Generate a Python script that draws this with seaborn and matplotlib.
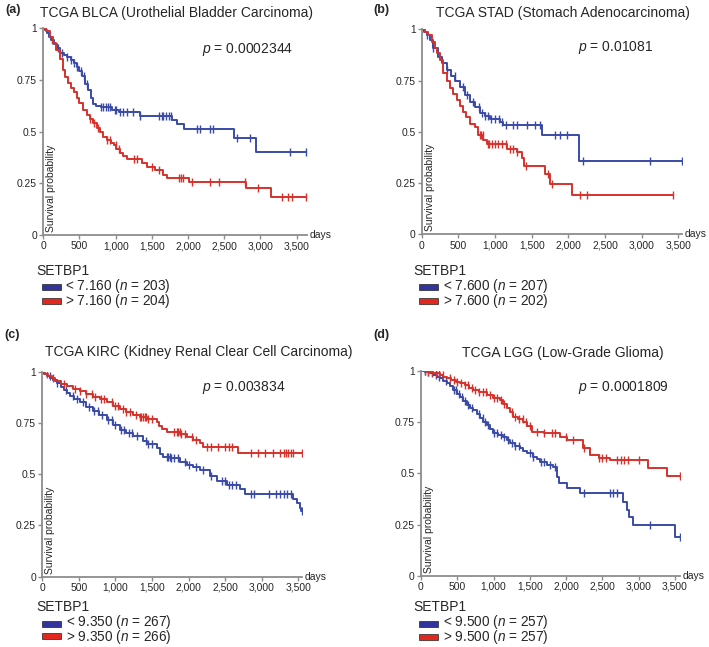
import numpy as np
import pandas as pd
import seaborn as sns
import matplotlib
matplotlib.use("Agg")
import matplotlib.pyplot as plt
from matplotlib.patches import Rectangle
from matplotlib.ticker import FuncFormatter

# ---------------- data ----------------
# Panel a: TCGA BLCA
a_low_t = [0, 20, 50, 80, 110, 150, 190, 230, 280, 330, 380, 420, 460, 500, 540, 580, 620, 660, 690, 730, 800, 950, 1050, 1330, 1780, 1850, 1950, 2630, 2940]
a_low_s = [1, 0.99, 0.975, 0.96, 0.945, 0.925, 0.905, 0.88, 0.87, 0.86, 0.845, 0.83, 0.815, 0.795, 0.77, 0.73, 0.70, 0.665, 0.635, 0.625, 0.618, 0.605, 0.595, 0.575, 0.555, 0.535, 0.515, 0.47, 0.40]
a_low_c = [120, 200, 260, 330, 380, 430, 470, 520, 560, 600, 800, 830, 870, 900, 920, 990, 1010, 1060, 1100, 1150, 1240, 1340, 1600, 1640, 1660, 1700, 1730, 1770, 2120, 2170, 2300, 2350, 2680, 2860, 3410, 3629]
a_high_t = [0, 40, 90, 140, 180, 230, 270, 300, 340, 380, 420, 460, 500, 550, 600, 640, 690, 740, 780, 830, 880, 930, 970, 1010, 1060, 1100, 1150, 1360, 1430, 1550, 1650, 1710, 2010, 2800, 3150]
a_high_s = [1, 0.985, 0.96, 0.93, 0.895, 0.85, 0.80, 0.765, 0.735, 0.71, 0.69, 0.665, 0.64, 0.605, 0.58, 0.56, 0.54, 0.52, 0.50, 0.475, 0.46, 0.445, 0.435, 0.415, 0.395, 0.38, 0.366, 0.35, 0.33, 0.315, 0.29, 0.274, 0.258, 0.226, 0.182]
a_high_c = [650, 700, 760, 880, 920, 1000, 1050, 1250, 1300, 1500, 1600, 1870, 1900, 1930, 2050, 2300, 2430, 2790, 2970, 3300, 3380, 3430, 3629]
a_end = 3629

# Panel b: TCGA STAD
b_low_t = [0, 30, 70, 110, 160, 220, 270, 340, 400, 455, 520, 590, 660, 730, 795, 860, 930, 1070, 1115, 1640, 2140]
b_low_s = [1, 0.985, 0.97, 0.95, 0.91, 0.865, 0.835, 0.80, 0.77, 0.75, 0.72, 0.68, 0.645, 0.62, 0.59, 0.575, 0.56, 0.55, 0.533, 0.485, 0.36]
b_low_c = [70, 160, 340, 450, 560, 620, 700, 780, 820, 860, 900, 950, 1000, 1050, 1100, 1150, 1250, 1300, 1432, 1545, 1614, 1820, 1886, 1977, 2204, 3113, 3545]
b_high_t = [0, 40, 90, 136, 180, 205, 250, 295, 340, 386, 430, 477, 520, 568, 610, 659, 727, 773, 841, 886, 1159, 1295, 1364, 1400, 1682, 1750, 2045]
b_high_s = [1, 0.985, 0.97, 0.94, 0.91, 0.883, 0.85, 0.785, 0.75, 0.712, 0.685, 0.655, 0.625, 0.598, 0.57, 0.54, 0.525, 0.485, 0.46, 0.44, 0.415, 0.40, 0.37, 0.335, 0.294, 0.244, 0.192]
b_high_c = [790, 810, 830, 900, 920, 960, 1000, 1040, 1100, 1150, 1200, 1250, 1300, 1420, 1720, 1770, 2160, 2250, 3432]
b_end_low = 3545
b_end_high = 3432

# Panel c: TCGA KIRC
c_low_t = [0, 30, 70, 110, 150, 200, 250, 300, 333, 380, 430, 515, 600, 697, 780, 880, 970, 1062, 1150, 1244, 1381, 1426, 1563, 1609, 1654, 1750, 1882, 1973, 2060, 2155, 2292, 2383, 2520, 2702, 2771, 3431, 3477, 3522, 3540]
c_low_s = [1, 0.99, 0.98, 0.97, 0.96, 0.945, 0.925, 0.91, 0.895, 0.88, 0.865, 0.85, 0.83, 0.81, 0.79, 0.765, 0.74, 0.715, 0.70, 0.685, 0.66, 0.645, 0.63, 0.60, 0.585, 0.58, 0.56, 0.545, 0.535, 0.52, 0.49, 0.465, 0.445, 0.43, 0.405, 0.38, 0.36, 0.335, 0.32]
c_low_c = [100, 200, 330, 420, 480, 560, 640, 700, 760, 820, 900, 950, 1000, 1080, 1120, 1180, 1230, 1300, 1420, 1440, 1500, 1700, 1720, 1740, 1760, 1800, 1850, 1950, 2000, 2100, 2200, 2300, 2450, 2500, 2550, 2600, 2650, 2850, 2900, 3100, 3200, 3250, 3300, 3350, 3400, 3545]
c_high_t = [0, 40, 80, 130, 180, 250, 333, 420, 515, 600, 697, 790, 880, 970, 1062, 1150, 1244, 1330, 1426, 1563, 1600, 1640, 1700, 1882, 1973, 2064, 2155, 2201, 2680]
c_high_s = [1, 0.99, 0.98, 0.97, 0.955, 0.94, 0.93, 0.915, 0.905, 0.89, 0.875, 0.865, 0.85, 0.835, 0.82, 0.805, 0.79, 0.78, 0.77, 0.755, 0.735, 0.72, 0.705, 0.695, 0.68, 0.665, 0.65, 0.634, 0.605]
c_high_c = [60, 150, 300, 450, 520, 600, 680, 720, 800, 850, 950, 1000, 1030, 1100, 1150, 1200, 1280, 1330, 1350, 1380, 1400, 1420, 1450, 1500, 1800, 1840, 1860, 1880, 1900, 1950, 2050, 2100, 2250, 2300, 2400, 2500, 2550, 2600, 2850, 2950, 3050, 3150, 3250, 3300, 3330, 3360, 3400, 3430, 3545]
c_end = 3545

# Panel d: TCGA LGG
d_low_t = [0, 60, 120, 170, 220, 262, 310, 354, 400, 446, 490, 537, 580, 629, 680, 721, 770, 813, 860, 905, 950, 997, 1060, 1134, 1180, 1226, 1300, 1364, 1410, 1456, 1548, 1600, 1640, 1732, 1823, 1869, 1906, 2007, 2191, 2788, 2834, 2871, 2926, 3500]
d_low_s = [1, 0.995, 0.99, 0.98, 0.972, 0.964, 0.952, 0.94, 0.925, 0.907, 0.89, 0.875, 0.855, 0.834, 0.82, 0.81, 0.79, 0.769, 0.752, 0.736, 0.715, 0.695, 0.687, 0.679, 0.663, 0.647, 0.635, 0.622, 0.61, 0.598, 0.581, 0.57, 0.557, 0.541, 0.533, 0.484, 0.451, 0.427, 0.402, 0.362, 0.321, 0.288, 0.248, 0.19]
d_low_c = [50, 100, 150, 200, 250, 350, 450, 480, 520, 560, 600, 650, 700, 800, 850, 880, 920, 1000, 1050, 1100, 1150, 1200, 1250, 1300, 1350, 1500, 1550, 1650, 1700, 1780, 1850, 2250, 2600, 2650, 2700, 3150, 3569]
d_high_t = [0, 80, 170, 262, 310, 354, 420, 480, 537, 600, 660, 721, 800, 905, 990, 1089, 1130, 1180, 1230, 1272, 1330, 1410, 1460, 1525, 1700, 1915, 2007, 2237, 2329, 2450, 2604, 3132, 3385]
d_high_s = [1, 0.997, 0.99, 0.98, 0.972, 0.964, 0.955, 0.948, 0.94, 0.93, 0.918, 0.907, 0.895, 0.883, 0.87, 0.858, 0.84, 0.818, 0.80, 0.777, 0.765, 0.752, 0.73, 0.704, 0.695, 0.68, 0.663, 0.622, 0.59, 0.575, 0.565, 0.524, 0.489]
d_high_c = [50, 100, 150, 200, 250, 300, 400, 450, 500, 550, 600, 650, 700, 750, 800, 850, 900, 950, 1000, 1050, 1100, 1150, 1250, 1300, 1350, 1400, 1450, 1500, 1600, 1700, 1800, 1850, 2000, 2100, 2250, 2450, 2500, 2550, 2700, 2750, 2800, 2850, 3000, 3569]
d_end = 3569

titles = ["TCGA BLCA (Urothelial Bladder Carcinoma)", "TCGA STAD (Stomach Adenocarcinoma)",
          "TCGA KIRC (Kidney Renal Clear Cell Carcinoma)", "TCGA LGG (Low-Grade Glioma)"]
panel_labels = ["(a)", "(b)", "(c)", "(d)"]
p_values = ["0.0002344", "0.01081", "0.003834", "0.0001809"]
cutoffs = ["7.160", "7.600", "9.350", "9.500"]
n_low = [203, 207, 267, 257]
n_high = [204, 202, 266, 257]
x_ticks = [0, 500, 1000, 1500, 2000, 2500, 3000, 3500]
y_ticks = [0, 0.25, 0.5, 0.75, 1]
y_tick_labels = ["0", "0.25", "0.5", "0.75", "1"]

# ---------------- style ----------------
sns.set_style("ticks")
plt.rcParams["font.family"] = ["Liberation Sans", "DejaVu Sans"]
plt.rcParams["mathtext.fontset"] = "custom"
plt.rcParams["mathtext.it"] = "Liberation Sans:italic"
plt.rcParams["mathtext.rm"] = "Liberation Sans"

BLUE = "#3A4BA6"
RED = "#D6322B"
LEG_BLUE = "#33339C"
LEG_RED = "#E2271F"
GREY = "#8C8C8C"

W, H = 709, 647
fig = plt.figure(figsize=(W / 100, H / 100), dpi=100)


def px_axes(left, top, right, bottom):
    return fig.add_axes([left / W, 1 - bottom / H, (right - left) / W, (bottom - top) / H])


panels = [
    dict(box=(43.3, 28.3, 307.0, 235.0), xmax=3643,
         curves=[(a_low_t, a_low_s, a_low_c, a_end, BLUE), (a_high_t, a_high_s, a_high_c, a_end, RED)],
         title_xy=(176.5, 13), lab_xy=(5, 10), p_xy=(202, 49),
         leg=(36.7, 270.7, 287.3, 300.7, 42.3, 65)),
    dict(box=(421.7, 29.3, 681.7, 234.3), xmax=3545,
         curves=[(b_low_t, b_low_s, b_low_c, b_end_low, BLUE), (b_high_t, b_high_s, b_high_c, b_end_high, RED)],
         title_xy=(562.5, 13), lab_xy=(373, 10), p_xy=(578, 47),
         leg=(413.3, 270.7, 287.3, 300.7, 419.3, 443)),
    dict(box=(42.3, 371.7, 301.7, 576.7), xmax=3546,
         curves=[(c_low_t, c_low_s, c_low_c, c_end, BLUE), (c_high_t, c_high_s, c_high_c, c_end, RED)],
         title_xy=(199, 351.7), lab_xy=(4, 335), p_xy=(202, 387),
         leg=(36.7, 606.7, 623.5, 636.0, 42.3, 66)),
    dict(box=(421.0, 371.0, 680.0, 575.7), xmax=3569,
         curves=[(d_low_t, d_low_s, d_low_c, d_end, BLUE), (d_high_t, d_high_s, d_high_c, d_end, RED)],
         title_xy=(562.5, 352.7), lab_xy=(373, 335), p_xy=(578, 387),
         leg=(413.3, 606.7, 624.0, 636.5, 419.3, 443)),
]


def ftext(x, y, s, **kw):
    return fig.text(x / W, 1 - y / H, s, **kw)


for i, P in enumerate(panels):
    ax = px_axes(*P["box"])
    for (t, s, cens, end, col) in P["curves"]:
        t_arr = np.array(t + [end], dtype=float)
        s_arr = np.array(s + [s[-1]], dtype=float)
        df = pd.DataFrame({"days": t_arr, "surv": s_arr})
        sns.lineplot(data=df, x="days", y="surv", ax=ax, color=col, lw=1.4,
                     estimator=None, sort=False, drawstyle="steps-post")
        c_arr = np.array(cens, dtype=float)
        idx = np.searchsorted(np.array(t, dtype=float), c_arr, side="right") - 1
        cy = np.array(s, dtype=float)[idx]
        ax.plot(c_arr, cy, linestyle="none", marker="|", ms=5.5, mew=1.0, color=col)

    ax.set_xlim(0, P["xmax"])
    ax.set_ylim(0, 1)
    ax.set_xticks(x_ticks)
    ax.xaxis.set_major_formatter(FuncFormatter(lambda v, pos: f"{int(v):,}"))
    ax.set_yticks(y_ticks)
    ax.set_yticklabels(y_tick_labels)
    ax.set_xlabel("")
    ax.set_ylabel("")
    for side in ["top", "right"]:
        ax.spines[side].set_visible(False)
    for side in ["left", "bottom"]:
        ax.spines[side].set_color(GREY)
        ax.spines[side].set_linewidth(1.3)
    ax.tick_params(axis="both", length=3, width=1.0, color=GREY, labelsize=7.4, pad=1.5)

    ax.annotate("Survival probability", xy=(0, 0), xycoords="axes fraction",
                xytext=(3, 3), textcoords="offset pixels", rotation=90,
                ha="left", va="bottom", fontsize=7.5)
    ax.annotate("days", xy=(1, 0), xycoords="axes fraction", xytext=(3, 0),
                textcoords="offset pixels", ha="left", va="center", fontsize=7.5)

    tx, ty = P["title_xy"]
    ftext(tx, ty, titles[i], ha="center", va="center", fontsize=10)
    lx, ly = P["lab_xy"]
    ftext(lx, ly, panel_labels[i], ha="left", va="center", fontsize=9, fontweight="bold")
    px, py = P["p_xy"]
    ftext(px, py, "$p$ = " + p_values[i], ha="left", va="center", fontsize=10)

    gx, gy, r1, r2, patch_x, text_x = P["leg"]
    ftext(gx, gy, "SETBP1", ha="left", va="center", fontsize=10)
    for ry, col in [(r1, LEG_BLUE), (r2, LEG_RED)]:
        rect = Rectangle((patch_x / W, 1 - (ry + 3) / H), 19 / W, 6 / H,
                         transform=fig.transFigure, facecolor=col,
                         edgecolor="#222222", lw=0.5)
        fig.add_artist(rect)
    rows = (f"< {cutoffs[i]} ($n$ = {n_low[i]})\n"
            f"> {cutoffs[i]} ($n$ = {n_high[i]})")
    ftext(text_x, (r1 + r2) / 2 - 0.5, rows, ha="left", va="center", fontsize=9.8,
          linespacing=0.75)

fig.savefig("out.png", dpi=100)
